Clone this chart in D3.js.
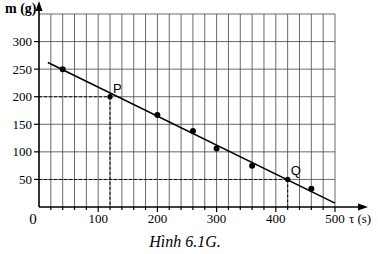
<!DOCTYPE html>
<html>
<head>
<meta charset="utf-8">
<script src="https://cdn.jsdelivr.net/npm/d3@7"></script>
<style>
  body { margin: 0; background: #fff; }
  svg { display: block; }
</style>
</head>
<body>
<div id="chart"></div>
<script>
// measured points (tau in s, m in g)
const tauValues = [40, 200, 260, 300, 360, 460];
const massValues = [250, 167, 138, 106, 75, 33];
// fitted line ends
const fitLine = [[15, 262], [500, 7]];
// marked points on the line
const marked = [
  { name: "P", tau: 120, m: 200 },
  { name: "Q", tau: 420, m: 50 }
];
const xTicks = [100, 200, 300, 400, 500];
const yTicks = [50, 100, 150, 200, 250, 300];

const width = 378, height = 254;

const x = d3.scaleLinear().domain([0, 500]).range([39, 335]);
const y = d3.scaleLinear().domain([0, 350]).range([207, 14]);

const svg = d3.select("#chart").append("svg")
  .attr("width", width)
  .attr("height", height);

// grid
const grid = svg.append("g").attr("class", "grid")
  .attr("stroke", "#444").attr("stroke-width", 0.8);

grid.selectAll(".vline")
  .data(d3.range(20, 501, 20))
  .enter().append("line")
  .attr("x1", d => x(d)).attr("x2", d => x(d))
  .attr("y1", y(0)).attr("y2", y(350));

grid.selectAll(".hline")
  .data(d3.range(50, 351, 50))
  .enter().append("line")
  .attr("x1", x(0)).attr("x2", x(500))
  .attr("y1", d => y(d)).attr("y2", d => y(d));

// dashed guides for P and Q
const guides = svg.append("g")
  .attr("stroke", "#111").attr("stroke-width", 1.1)
  .attr("stroke-dasharray", "3,2");
marked.forEach(p => {
  guides.append("line")
    .attr("x1", x(0)).attr("x2", x(p.tau))
    .attr("y1", y(p.m)).attr("y2", y(p.m));
  guides.append("line")
    .attr("x1", x(p.tau)).attr("x2", x(p.tau))
    .attr("y1", y(p.m)).attr("y2", y(0));
});

// axes
const axes = svg.append("g").attr("stroke", "#000").attr("stroke-width", 1.6);
axes.append("line")
  .attr("x1", x(0)).attr("x2", 362)
  .attr("y1", y(0)).attr("y2", y(0));
axes.append("line")
  .attr("x1", x(0)).attr("x2", x(0))
  .attr("y1", y(0)).attr("y2", 6);

svg.append("path")
  .attr("d", `M368,${y(0)} L358,${y(0) - 3.5} L358,${y(0) + 3.5} Z`)
  .attr("fill", "#000");
svg.append("path")
  .attr("d", `M${x(0)},1 L${x(0) - 3.5},11 L${x(0) + 3.5},11 Z`)
  .attr("fill", "#000");

// tick marks
const ticks = svg.append("g").attr("stroke", "#000").attr("stroke-width", 1.2);
ticks.selectAll(".xt")
  .data(d3.range(20, 501, 20))
  .enter().append("line")
  .attr("x1", d => x(d)).attr("x2", d => x(d))
  .attr("y1", y(0)).attr("y2", d => y(0) + (d % 100 === 0 ? 5 : 3));
ticks.selectAll(".yt")
  .data(yTicks)
  .enter().append("line")
  .attr("x1", x(0) - 5).attr("x2", x(0))
  .attr("y1", d => y(d)).attr("y2", d => y(d));

// tick labels
const serif = "'Liberation Serif', 'DejaVu Serif', serif";
svg.selectAll(".xl")
  .data(xTicks)
  .enter().append("text")
  .attr("x", d => x(d))
  .attr("y", 223)
  .attr("text-anchor", "middle")
  .attr("font-family", serif)
  .attr("font-size", 13)
  .text(d => d);

svg.selectAll(".yl")
  .data(yTicks)
  .enter().append("text")
  .attr("x", 32)
  .attr("y", d => y(d) + 4.5)
  .attr("text-anchor", "end")
  .attr("font-family", serif)
  .attr("font-size", 13)
  .text(d => d);

svg.append("text")
  .attr("x", 33).attr("y", 224)
  .attr("text-anchor", "middle")
  .attr("font-family", serif).attr("font-size", 15)
  .text("0");

// axis titles
svg.append("text")
  .attr("x", 5).attr("y", 13)
  .attr("font-family", serif).attr("font-size", 14)
  .attr("font-weight", "bold")
  .text("m (g)");
svg.append("text")
  .attr("x", 349).attr("y", 223)
  .attr("font-family", serif).attr("font-size", 13)
  .text("τ (s)");

// fitted line
svg.append("line")
  .attr("x1", x(fitLine[0][0])).attr("y1", y(fitLine[0][1]))
  .attr("x2", x(fitLine[1][0])).attr("y2", y(fitLine[1][1]))
  .attr("stroke", "#000").attr("stroke-width", 1.6);

// data points
svg.selectAll(".pt")
  .data(tauValues)
  .enter().append("circle")
  .attr("cx", d => x(d))
  .attr("cy", (d, i) => y(massValues[i]))
  .attr("r", 3)
  .attr("fill", "#000");

svg.selectAll(".mk")
  .data(marked)
  .enter().append("circle")
  .attr("cx", d => x(d.tau))
  .attr("cy", d => y(d.m))
  .attr("r", 2.6)
  .attr("fill", "#000");

svg.selectAll(".mkl")
  .data(marked)
  .enter().append("text")
  .attr("x", d => x(d.tau) + 3)
  .attr("y", d => y(d.m) - 4)
  .attr("font-family", "'Liberation Sans', Arial, sans-serif")
  .attr("font-size", 13)
  .text(d => d.name);

// caption
svg.append("text")
  .attr("x", 185).attr("y", 247)
  .attr("text-anchor", "middle")
  .attr("font-family", serif).attr("font-size", 16)
  .attr("font-style", "italic")
  .text("Hình 6.1G.");
</script>
</body>
</html>
